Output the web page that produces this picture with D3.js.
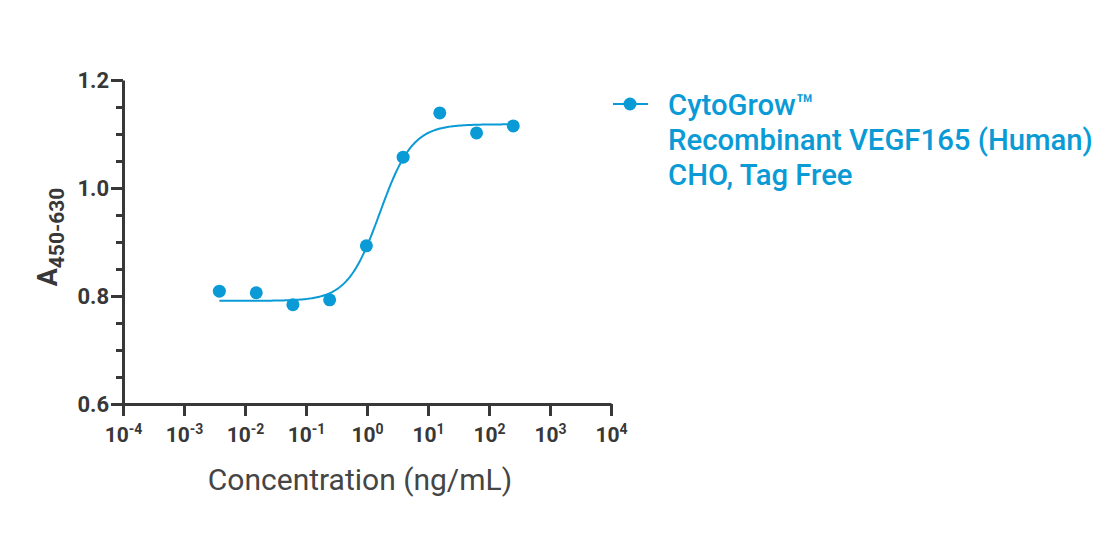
<!DOCTYPE html>
<html><head><meta charset="utf-8">
<script src="https://cdn.jsdelivr.net/npm/d3@7"></script>
<style>body{margin:0;background:#fff}svg{display:block;font-family:Roboto,"Noto Sans",sans-serif}</style>
</head><body>
<svg id="c" width="1104" height="534"></svg>
<script>
// Data (concentration ng/mL, absorbance)
const concentrations = [0.0038, 0.0153, 0.061, 0.244, 0.977, 3.91, 15.6, 62.5, 250];
const absorbance = [0.809, 0.806, 0.784, 0.793, 0.893, 1.057, 1.139, 1.102, 1.115];
// 4PL fit parameters of the drawn curve
const fitBottom = 0.791, fitTop = 1.118, fitEC50 = 1.63, fitHill = 1.63;
const xTickExponents = [-4, -3, -2, -1, 0, 1, 2, 3, 4];
const yTicks = [0.6, 0.8, 1.0, 1.2];
const yMinorTicks = [0.65, 0.7, 0.75, 0.85, 0.9, 0.95, 1.05, 1.1, 1.15];
const legendLines = ["CytoGrow™", "Recombinant VEGF165 (Human)", "CHO, Tag Free"];

const blue = "#0a9bd6", axisCol = "#383838";
const svg = d3.select("#c");
const x = d3.scaleLog().domain([1e-4, 1e4]).range([123, 611]);
const y = d3.scaleLinear().domain([0.6, 1.2]).range([404, 80]);

// Y axis
const yAxis = svg.append("g").attr("transform", "translate(123,0)");
yAxis.call(d3.axisLeft(y).tickValues(yTicks).tickFormat(d3.format(".1f")).tickSize(12).tickSizeOuter(0));
yAxis.append("g").call(d3.axisLeft(y).tickValues(yMinorTicks).tickFormat("").tickSize(7).tickSizeOuter(0))
  .select(".domain").remove();
yAxis.selectAll("path.domain").attr("stroke", axisCol).attr("stroke-width", 3);
yAxis.selectAll("line").attr("stroke", axisCol).attr("stroke-width", 3);
yAxis.selectAll("text").attr("fill", axisCol).attr("font-size", 22).attr("font-weight", "bold")
  .attr("font-family", "Roboto").attr("x", -14).attr("dy", "0.36em");

// X axis
const xAxis = svg.append("g").attr("transform", "translate(0,404)");
xAxis.call(d3.axisBottom(x).tickValues(xTickExponents.map(e => Math.pow(10, e))).tickFormat("").tickSize(12).tickSizeOuter(0));
xAxis.selectAll("path.domain").attr("stroke", axisCol).attr("stroke-width", 3);
xAxis.selectAll("line").attr("stroke", axisCol).attr("stroke-width", 3);
xAxis.selectAll(".tick").data(xTickExponents).each(function(e) {
  const t = d3.select(this).append("text").attr("y", 38).attr("fill", axisCol)
    .attr("font-size", 21).attr("font-weight", "bold").attr("text-anchor", "middle").attr("font-family", "Roboto");
  t.append("tspan").text("10");
  t.append("tspan").attr("font-size", 14).attr("dy", -8).text(String(e));
});

// Axis titles
svg.append("text").attr("x", 360).attr("y", 490).attr("text-anchor", "middle")
  .attr("font-size", 30).attr("fill", "#454545").text("Concentration (ng/mL)");
const yt = svg.append("text").attr("transform", "translate(57,237) rotate(-90)").attr("text-anchor", "middle")
  .attr("font-weight", "bold").attr("fill", axisCol);
yt.append("tspan").attr("font-size", 27).text("A");
yt.append("tspan").attr("font-size", 21).attr("dy", 7).text("450-630");

// Fitted curve
const curveX = d3.range(Math.log10(concentrations[0]), Math.log10(concentrations[concentrations.length-1]) + 0.001, 0.02);
const fit = lx => fitBottom + (fitTop - fitBottom) / (1 + Math.pow(fitEC50 / Math.pow(10, lx), fitHill));
svg.append("path").datum(curveX)
  .attr("d", d3.line().x(lx => x(Math.pow(10, lx))).y(lx => y(fit(lx))))
  .attr("fill", "none").attr("stroke", blue).attr("stroke-width", 2);

// Points
svg.append("g").selectAll("circle").data(concentrations).join("circle")
  .attr("cx", d => x(d)).attr("cy", (d, i) => y(absorbance[i])).attr("r", 6.5).attr("fill", blue);

// Legend
const lg = svg.append("g");
lg.append("line").attr("x1", 613).attr("x2", 648).attr("y1", 104).attr("y2", 104).attr("stroke", blue).attr("stroke-width", 2);
lg.append("circle").attr("cx", 630).attr("cy", 104).attr("r", 6.5).attr("fill", blue);
lg.selectAll("text").data(legendLines).join("text")
  .attr("x", 668).attr("y", (d, i) => 115 + i * 35).attr("font-size", 29.3).attr("font-weight", 500)
  .attr("fill", blue).text(d => d);
</script>
</body></html>
